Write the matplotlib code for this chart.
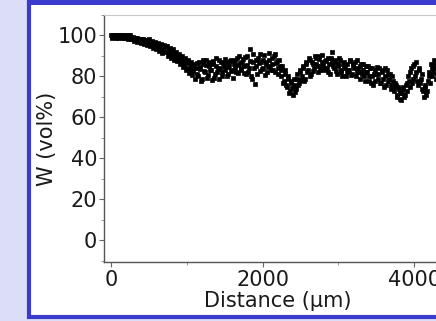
import numpy as np
import matplotlib
matplotlib.use("Agg")
import matplotlib.pyplot as plt
from matplotlib.patches import Rectangle
from matplotlib.ticker import MultipleLocator

plt.rcParams['font.family'] = ['DejaVu Sans']

step_um = 20
# scan A sampled at 0, 20, 40 ... µm
w_vol_a = [
    100, 99.5, 100, 99, 100, 99.5, 100, 99, 100, 99.5, 99, 100, 99, 99.5, 98.5, 99,
    98, 99, 97.5, 98.5, 97, 98.5, 96.5, 98, 97, 98.5,
    96, 97.5, 95, 97, 94.5, 96.5, 94, 96, 93, 95.5,
    92.5, 95, 91.5, 94, 90.5, 93.5, 89.5, 92, 88.5, 91,
    87, 90, 85.5, 89, 84, 88, 83, 87, 82.5, 86,
    84, 81, 87, 83.5, 79, 86, 82, 88, 80.5, 85,
    83, 87.5, 79.5, 85, 82, 88, 84, 80, 86.5, 83,
    87, 81, 85.5, 88, 82.5, 86, 84, 89, 81.5, 86.5,
    83, 88.5, 85, 81, 90, 84, 93.5, 79, 87, 76.5,
    85, 89, 82.5, 87, 84, 90.5, 86, 82, 88, 85,
    89, 83, 91, 86.5, 84, 88, 80, 85, 78, 83,
    75, 80, 73, 78, 71, 76, 74, 79, 77, 82,
    80, 85, 79, 87, 83, 88, 81, 86, 84, 89,
    85, 90, 83, 87, 86, 84, 88, 82, 86, 89,
    92, 84, 87, 81, 85, 88, 82, 86, 84, 80,
    86, 83, 88, 81, 85, 87, 82, 84, 79, 86,
    83, 80, 85, 82, 78, 84, 80, 76, 83, 81,
    79, 84, 77, 82, 75, 80, 83, 78, 81, 76,
    78, 73, 76, 70, 74, 69, 72, 75, 71, 77,
    80, 75, 84, 79, 86, 82, 78, 83, 77, 81,
    73, 76, 71, 78, 82, 86, 80, 88, 84, 81,
]
# scan B sampled at 10, 30, 50 ... µm
w_vol_b = [
    99, 100, 99.5, 100, 99, 100, 99.5, 100, 99, 100, 99.5, 98.5, 100, 98.5, 99.5, 97.5,
    99, 97, 98.5, 96.5, 98.5, 96, 97.5, 95.5, 98, 95,
    97, 94, 96.5, 93.5, 96, 92.5, 95.5, 91.5, 94.5, 92,
    95, 90, 93.5, 89, 92.5, 88, 91, 87.5, 90, 86,
    89, 84.5, 87.5, 83, 86.5, 81.5, 85, 80.5, 84, 79,
    86.5, 80, 84.5, 78, 88, 82.5, 85.5, 79.5, 87, 83,
    78.5, 86, 81, 89, 83.5, 79, 87, 82, 85, 88.5,
    80, 84.5, 87.5, 83, 79.5, 88, 82, 85.5, 90, 84,
    87, 81.5, 89.5, 85.5, 82, 87.5, 80, 91, 84, 88,
    81, 86.5, 91, 83.5, 88, 80.5, 87, 84.5, 91.5, 83,
    86, 90, 82, 87.5, 81, 85, 83, 77, 81, 76,
    79, 72, 77, 74.5, 79, 72.5, 81, 76, 83, 78.5,
    84, 78, 86, 82, 89, 80, 87, 82.5, 90, 86,
    82, 88.5, 85, 90.5, 83, 87.5, 84, 89, 81, 87,
    85, 88, 82.5, 86, 89, 83, 80, 87, 85, 82,
    83, 87.5, 80.5, 86, 84, 80, 88, 82, 85, 81,
    86, 78, 82, 85, 80, 77, 84, 81, 78, 84.5,
    81, 77, 83, 79, 84, 76, 81, 79, 74, 80,
    75, 77, 71, 75, 72, 68.5, 74, 70, 76, 73,
    78, 82, 77, 85, 80, 87, 76, 84, 79, 74,
    70, 75, 73, 80, 77, 84, 82, 86, 79, 89,
]
distance_a = np.arange(len(w_vol_a)) * step_um
distance_b = np.arange(len(w_vol_b)) * step_um + step_um / 2

x_ticks = [0, 2000, 4000]
y_ticks = [0, 20, 40, 60, 80, 100]

W, H = 436, 321
fig = plt.figure(figsize=(W / 100, H / 100), dpi=100)
fig.patch.set_facecolor('#dcdef8')

# framed panel (drawn beneath the axes)
frame = Rectangle((29 / W, 4.5 / H), (W + 20 - 29) / W, (H + 10) / H,
                  transform=fig.transFigure, facecolor='white',
                  edgecolor='#3a3acc', linewidth=3.0, zorder=-2)
fig.patches.append(frame)
fig.patches.append(Rectangle((27 / W, (H - 4.5) / H), 1, 4.5 / H,
                             transform=fig.transFigure, facecolor='#3a3acc',
                             edgecolor='none', zorder=-1))

left, right_px, top_px, bot_px = 104, 452, 15, 262
ax = fig.add_axes([left / W, 1 - bot_px / H, (right_px - left) / W, (bot_px - top_px) / H])
ax.set_facecolor('white')

for xs, ys in ((distance_a, w_vol_a), (distance_b, w_vol_b)):
    ax.scatter(xs, ys, marker='s', s=11, c='black', linewidths=0.5,
               edgecolors='black', zorder=3)

ax.set_xlim(-92, 4500)
ax.set_ylim(-10.5, 110)
ax.set_xticks(x_ticks)
ax.set_yticks(y_ticks)
ax.xaxis.set_minor_locator(MultipleLocator(1000))
ax.yaxis.set_minor_locator(MultipleLocator(10))

for s in ['left', 'bottom']:
    ax.spines[s].set_color('#555555')
    ax.spines[s].set_linewidth(1.0)
ax.spines['top'].set_color('#c8c8c8')
ax.spines['top'].set_linewidth(0.8)
ax.spines['right'].set_visible(False)

ax.tick_params(axis='both', which='major', direction='out', length=3.5, width=0.8,
               color='#666666', labelsize=15, labelcolor='#1a1a1a', pad=1.5)
ax.tick_params(axis='x', which='major', pad=2.5)
ax.tick_params(axis='both', which='minor', direction='out', length=2, width=0.6,
               color='#888888')

ax.set_xlabel('Distance (µm)', fontsize=15, color='#1a1a1a', labelpad=0.5)
ax.set_ylabel('W (vol%)', fontsize=15, color='#1a1a1a', labelpad=0)

fig.savefig('out.png', dpi=100, facecolor=fig.get_facecolor())
